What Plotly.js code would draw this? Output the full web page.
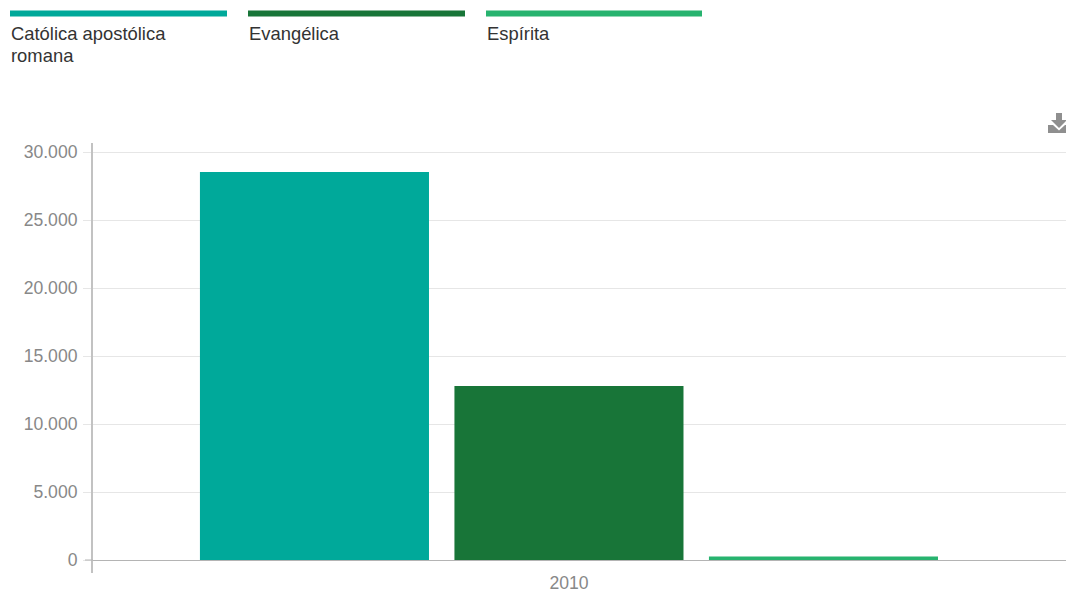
<!DOCTYPE html>
<html>
<head>
<meta charset="utf-8">
<script src="https://cdn.plot.ly/plotly-3.0.1.min.js"></script>
<style>html,body{margin:0;padding:0;background:#fff;overflow:hidden}#chart{width:1066px;height:592px}</style>
</head>
<body>
<div id="chart"></div>
<script>
const years = ['2010'];
const legendLabels = [['Católica apostólica', 'romana'], ['Evangélica'], ['Espírita']];
const catolica = [28530];
const evangelica = [12790];
const espirita = [250];
const colors = ['#00a99a', '#187538', '#27b36f'];
const yTicks = [0, 5000, 10000, 15000, 20000, 25000, 30000];

const W = 1066, H = 592, L = 93, R = 0, T = 143, B = 19;
const px = x => (x - L) / (W - L - R);
const py = y => (H - B - y) / (H - T - B);

const seriesValues = [catolica, evangelica, espirita];
const traces = seriesValues.map((v, i) => ({
  type: 'bar', x: years, y: v, name: legendLabels[i].join(' '),
  marker: {color: colors[i], line: {width: 0}}
}));

const legendX = [[10, 227], [248, 465], [486, 702]];
const shapes = legendX.map((p, i) => ({
  type: 'rect', xref: 'paper', yref: 'paper', layer: 'above',
  x0: px(p[0]), x1: px(p[1]), y0: py(10.5), y1: py(16.5),
  fillcolor: colors[i], line: {width: 0}
}));
shapes.push({
  type: 'line', xref: 'paper', yref: 'y', x0: px(85), x1: px(93), y0: 0, y1: 0,
  line: {color: '#b4b4b4', width: 1}
});
const icon = [[1056,113],[1062,113],[1062,120],[1067,120],[1059,128],[1051,120],[1056,120]];
const tray = [[1048,125],[1053,125],[1059,130.5],[1065,125],[1070,125],[1070,133],[1048,133]];
const toPath = pts => pts.map((q, i) => (i ? 'L' : 'M') + px(q[0]) + ',' + py(q[1])).join(' ') + ' Z';
[icon, tray].forEach(pts => shapes.push({
  type: 'path', xref: 'paper', yref: 'paper', path: toPath(pts),
  fillcolor: '#8f8f8f', line: {width: 0}
}));

const annotations = [];
legendX.forEach((p, i) => legendLabels[i].forEach((line, k) => annotations.push({
  xref: 'paper', yref: 'paper', x: px(p[0]), y: py(22 + k * 22),
  xanchor: 'left', yanchor: 'top', align: 'left', showarrow: false,
  text: line, borderpad: 0,
  font: {family: 'Liberation Sans, Arial, sans-serif', size: 18.4, color: '#333333'}
})));

const layout = {
  width: W, height: H, showlegend: false, hovermode: false,
  paper_bgcolor: '#fff', plot_bgcolor: '#fff',
  margin: {l: L, r: R, t: T, b: B, pad: 0},
  separators: ',.',
  barmode: 'group', bargap: 0, bargroupgap: 0.1,
  font: {family: 'Liberation Sans, Arial, sans-serif', size: 17.6, color: '#888888'},
  xaxis: {
    type: 'category', range: [-0.6234, 0.651], showgrid: false, zeroline: false,
    showline: false, ticks: '', tickfont: {size: 17.6, color: '#888888'},
    ticklabelstandoff: -3, fixedrange: true
  },
  yaxis: {
    range: [-956, 30662], tickmode: 'array', tickvals: yTicks,
    tickformat: ',d', showgrid: true, gridcolor: '#e6e6e6', gridwidth: 1,
    zeroline: true, zerolinecolor: '#b4b4b4', zerolinewidth: 1,
    showline: true, linecolor: '#c2c2c2', linewidth: 2,
    ticks: 'outside', ticklen: 8, tickcolor: '#e6e6e6', tickwidth: 1,
    ticklabelstandoff: 2,
    tickfont: {size: 17.6, color: '#888888'}, fixedrange: true
  },
  shapes: shapes, annotations: annotations
};

Plotly.newPlot('chart', traces, layout, {displayModeBar: false, responsive: false});
</script>
</body>
</html>
